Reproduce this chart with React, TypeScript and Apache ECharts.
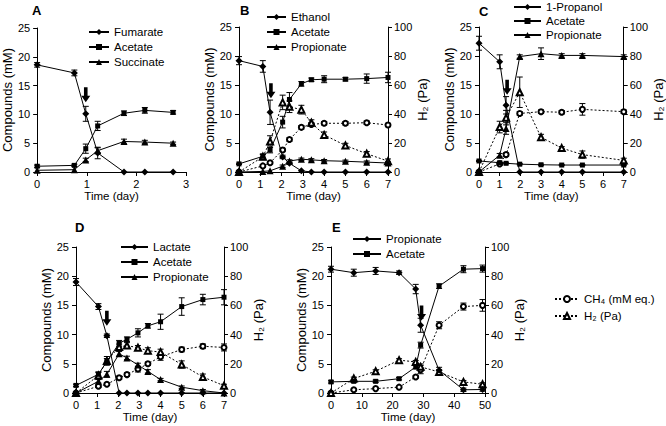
import React, { useEffect, useRef } from "react";
import * as echarts from "echarts";

const FONT = "Liberation Sans, Arial, sans-serif";

// ---------- Panel A ----------
const timeA = [0, 0.75, 0.98, 1.22, 1.75, 2.17, 2.74];
const fumarateA = [18.6, 17.2, 10.1, 3.3, 0, 0, 0];
const fumarateAErr = [0.4, 0.5, 1.3, 1.0, 0, 0, 0];
const acetateA = [1.0, 1.15, 4.05, 8.0, 10.2, 10.7, 10.35];
const acetateAErr = [0.2, 0.2, 0.8, 0.8, 0.4, 0.5, 0.3];
const succinateA = [0.3, 0.4, 2.1, 3.7, 5.3, 5.2, 5.0];
const succinateAErr = [0, 0, 0.3, 0.5, 0.4, 0.3, 0.2];
const arrowA = [0.98, 13.4];

// ---------- Panel B ----------
const timeB = [0, 1.12, 1.46, 2.05, 2.37, 2.93, 3.4, 4, 5, 6, 7];
const ethanolB = [19.2, 18.2, 10.3, 2.6, 1.5, 0.2, 0, 0, 0, 0, 0];
const ethanolBErr = [0.7, 1.0, 2.1, 0.3, 0.2, 0, 0, 0, 0, 0, 0];
const acetateB = [1.4, 2.7, 3.8, 8.6, 12.5, 15.2, 15.9, 16.0, 16.0, 16.1, 16.3];
const acetateBErr = [0.1, 0.3, 0.5, 1.0, 1.2, 0.4, 0.3, 0.6, 0.3, 0.8, 0.9];
const propionateB = [0, 0.1, 0.2, 1.0, 1.9, 2.2, 2.1, 1.95, 1.85, 1.7, 1.55];
const propionateBErr = [0, 0, 0, 0.2, 0.2, 0.2, 0.2, 0.2, 0.2, 0.2, 0.2];
const ch4B = [0, 1.05, 1.6, 3.8, 5.6, 7.7, 8.2, 8.4, 8.4, 8.5, 8.1];
const ch4BErr = [0, 0.2, 0.2, 0.3, 0.3, 0.3, 0.3, 0.3, 0.3, 0.3, 0.3];
const h2B = [0, 10.5, 21, 48, 45, 43, 34, 25.6, 18.3, 12.6, 7.5];
const h2BErr = [0, 2, 4, 5, 4, 3, 2, 2, 1.5, 1.5, 1.5];
const arrowB = [1.5, 14.0];

// ---------- Panel C ----------
const timeC = [0, 1.0, 1.31, 1.97, 3, 4, 5, 7];
const propanolC = [22.2, 19.0, 11.5, 0, 0, 0, 0, 0];
const propanolCErr = [1.2, 1.2, 1.5, 0, 0, 0, 0, 0];
const acetateC = [1.9, 1.6, 1.5, 1.35, 1.25, 1.2, 1.2, 1.2];
const acetateCErr = [0.1, 0.1, 0.1, 0.1, 0.1, 0.1, 0.1, 0.1];
const propionateC = [0, 2.9, 7.5, 19.9, 20.4, 20.1, 20.1, 19.9];
const propionateCErr = [0, 0.3, 1.0, 0.3, 1.0, 0.3, 0.3, 0.3];
const ch4C = [0, 1.4, 3.0, 10.1, 10.4, 10.3, 10.8, 10.4];
const ch4CErr = [0, 0.2, 0.3, 0.3, 0.3, 0.3, 1.0, 0.3];
const h2C = [0, 31, 37.5, 55, 24, 16.5, 12, 8];
const h2CErr = [0, 4, 5, 10.5, 2, 1, 2.5, 1.5];
const arrowC = [1.36, 14.6];

// ---------- Panel D ----------
const timeD = [0, 1.06, 1.46, 2.04, 2.41, 2.93, 3.4, 4, 5, 6, 7];
const lactateD = [19.0, 14.8, 9.8, 0, 0, 0, 0, 0, 0, 0, 0];
const lactateDErr = [0.6, 0.5, 0.3, 0, 0, 0, 0, 0, 0, 0, 0];
const acetateD = [1.3, 3.2, 5.4, 8.5, 9.2, 10.3, 11.5, 12.2, 14.8, 16.0, 16.4];
const acetateDErr = [0.2, 0.3, 0.5, 0.5, 0.4, 0.7, 0.4, 1.3, 1.5, 0.9, 1.3];
const propionateD = [0, 2.0, 3.2, 6.7, 6.0, 4.8, 3.7, 2.3, 1.0, 0.4, 0];
const propionateDErr = [0, 0.3, 0.5, 0.4, 0.3, 0.3, 0.3, 0.2, 0.2, 0.2, 0];
const ch4D = [0, 1.15, 1.5, 2.6, 3.15, 4.1, 5.0, 6.2, 7.45, 8.0, 7.8];
const ch4DErr = [0, 0.2, 0.2, 0.3, 0.3, 0.5, 0.3, 0.6, 0.4, 0.4, 0.6];
const h2D = [0, 12, 22, 31.5, 32.5, 31, 29, 28, 19.5, 11, 5];
const h2DErr = [0, 2.5, 3, 2, 2, 1.5, 2, 2, 2.5, 2, 1];
const arrowD = [1.46, 12.8];

// ---------- Panel E ----------
const timeE = [0, 7.4, 14.5, 22.1, 27.5, 29.1, 35.1, 43, 49.2];
const propionateE = [21.2, 20.6, 20.9, 20.6, 17.8, 11.6, 3.9, 0.55, 0.6];
const propionateEErr = [0.5, 0.6, 0.6, 0.3, 0.8, 1.2, 0.5, 0.3, 0.3];
const acetateE = [1.9, 2.0, 2.0, 2.45, 4.45, 8.2, 18.3, 21.2, 21.3];
const acetateEErr = [0.2, 0.2, 0.2, 0.2, 0.3, 0.5, 0.4, 0.6, 0.6];
const ch4E = [0, 0.55, 0.75, 1.0, 2.75, 4.0, 11.6, 14.8, 15.0];
const ch4EErr = [0, 0.1, 0.1, 0.1, 0.2, 0.7, 0.6, 0.6, 1.0];
const h2E = [0, 9.9, 14.9, 22.5, 21.3, 17.9, 14.4, 7.6, 6.0];
const h2EErr = [0, 1, 1, 1, 1, 2, 1.5, 1, 1];
const arrowE = [29.4, 13.7];

// axis names / labels
const compoundsName = "Compounds (mM)";
const h2Name = "H\u2082 (Pa)";
const timeName = "Time (day)";
const ch4Label = "CH\u2084 (mM eq.)";
const h2Label = "H\u2082 (Pa)";

const ARROW = "path://M3,0 L7,0 L7,9 L10,9 L5,16 L0,9 L3,9 Z";

const axisLine = { show: true, lineStyle: { color: "#000", width: 1 } };
const axisTick = { show: true, length: 4, lineStyle: { color: "#000", width: 1 } };
const labelStyle = { color: "#000", fontSize: 11, fontFamily: FONT };
const nameStyle = { color: "#000", fontSize: 13, fontFamily: FONT };

function xAx(gridIndex: number, max: number, interval: number, nameGap: number) {
  return {
    type: "value",
    gridIndex,
    min: 0,
    max,
    interval,
    name: timeName,
    nameLocation: "middle",
    nameGap,
    nameTextStyle: { ...labelStyle, fontSize: 11.5 },
    axisLine,
    axisTick,
    axisLabel: { ...labelStyle, margin: 6 },
    splitLine: { show: false },
  };
}

function yLeft(gridIndex: number, nameGap: number) {
  return {
    type: "value",
    gridIndex,
    min: 0,
    max: 25,
    interval: 5,
    position: "left",
    name: compoundsName,
    nameLocation: "middle",
    nameRotate: 90,
    nameGap,
    nameTextStyle: nameStyle,
    axisLine,
    axisTick,
    axisLabel: { ...labelStyle, margin: 7 },
    splitLine: { show: false },
  };
}

function yRight(gridIndex: number, nameGap: number) {
  return {
    type: "value",
    gridIndex,
    min: 0,
    max: 100,
    interval: 20,
    position: "right",
    name: h2Name,
    nameLocation: "middle",
    nameRotate: 90,
    nameGap,
    nameTextStyle: nameStyle,
    axisLine,
    axisTick,
    axisLabel: { ...labelStyle, margin: 6 },
    splitLine: { show: false },
  };
}

function pts(xs: number[], ys: number[]) {
  return xs.map((x, i) => [x, ys[i]]);
}

function lineS(
  name: string,
  xi: number,
  yi: number,
  xs: number[],
  ys: number[],
  symbol: string,
  symbolSize: number,
  dotted = false
) {
  const empty = symbol.indexOf("empty") === 0;
  return {
    type: "line",
    name,
    xAxisIndex: xi,
    yAxisIndex: yi,
    data: pts(xs, ys),
    symbol,
    symbolSize,
    showSymbol: true,
    showAllSymbol: true,
    itemStyle: empty
      ? { color: "#000", borderColor: "#000", borderWidth: 1 }
      : { color: "#000", borderWidth: 0 },
    lineStyle: { color: "#000", width: 1, type: dotted ? [2, 2] : "solid" },
    z: dotted ? 3 : 4,
    silent: true,
  };
}

function errS(xi: number, yi: number, xs: number[], ys: number[], errs: number[]) {
  return {
    type: "custom",
    xAxisIndex: xi,
    yAxisIndex: yi,
    data: xs.map((x, i) => [x, ys[i], errs[i]]),
    encode: { x: 0, y: 1 },
    silent: true,
    z: 2,
    renderItem: (_params: any, api: any) => {
      const x = api.value(0);
      const y = api.value(1);
      const e = api.value(2);
      if (!e) return null;
      const top = api.coord([x, y + e]);
      const bot = api.coord([x, Math.max(0, y - e)]);
      const w = 3;
      const style = { stroke: "#000", lineWidth: 1, fill: null };
      return {
        type: "group",
        children: [
          { type: "line", shape: { x1: top[0], y1: top[1], x2: bot[0], y2: bot[1] }, style },
          { type: "line", shape: { x1: top[0] - w, y1: top[1], x2: top[0] + w, y2: top[1] }, style },
          { type: "line", shape: { x1: bot[0] - w, y1: bot[1], x2: bot[0] + w, y2: bot[1] }, style },
        ],
      };
    },
  };
}

function arrowS(xi: number, yi: number, p: number[]) {
  return {
    type: "scatter",
    xAxisIndex: xi,
    yAxisIndex: yi,
    data: [p],
    symbol: ARROW,
    symbolSize: [9, 15],
    itemStyle: { color: "#000", opacity: 1, borderWidth: 0 },
    z: 10,
    silent: true,
  };
}

function legendC(names: string[], left: number, top: number, itemWidth: number, itemGap: number) {
  return {
    data: names,
    orient: "vertical",
    left,
    top,
    itemWidth,
    itemHeight: 7.5,
    itemGap,
    padding: 0,
    selectedMode: false,
    formatter: (n: string) => n.split("|")[1],
    textStyle: { color: "#000", fontSize: 11.5, fontFamily: FONT, lineHeight: 13 },
  };
}

function panelTitle(text: string, left: number, top: number) {
  return {
    text,
    left,
    top,
    padding: 0,
    textStyle: { color: "#000", fontSize: 13, fontWeight: "bold", fontFamily: FONT },
  };
}

export default function App() {
  const ref = useRef<HTMLDivElement>(null);

  useEffect(() => {
    if (!ref.current) return;
    const chart = echarts.init(ref.current, undefined, { renderer: "svg" });

    const series: any[] = [
      // A
      errS(0, 0, timeA, fumarateA, fumarateAErr),
      errS(0, 0, timeA, acetateA, acetateAErr),
      errS(0, 0, timeA, succinateA, succinateAErr),
      lineS("A|Fumarate", 0, 0, timeA, fumarateA, "diamond", 7),
      lineS("A|Acetate", 0, 0, timeA, acetateA, "rect", 5),
      lineS("A|Succinate", 0, 0, timeA, succinateA, "triangle", 7),
      arrowS(0, 0, arrowA),
      // B
      errS(1, 1, timeB, ch4B, ch4BErr),
      errS(1, 2, timeB, h2B, h2BErr),
      errS(1, 1, timeB, ethanolB, ethanolBErr),
      errS(1, 1, timeB, acetateB, acetateBErr),
      errS(1, 1, timeB, propionateB, propionateBErr),
      lineS("B|" + ch4Label, 1, 1, timeB, ch4B, "emptyCircle", 5, true),
      lineS("B|" + h2Label, 1, 2, timeB, h2B, "emptyTriangle", 6, true),
      lineS("B|Ethanol", 1, 1, timeB, ethanolB, "diamond", 7),
      lineS("B|Acetate", 1, 1, timeB, acetateB, "rect", 5),
      lineS("B|Propionate", 1, 1, timeB, propionateB, "triangle", 7),
      arrowS(1, 1, arrowB),
      // C
      errS(2, 3, timeC, ch4C, ch4CErr),
      errS(2, 4, timeC, h2C, h2CErr),
      errS(2, 3, timeC, propanolC, propanolCErr),
      errS(2, 3, timeC, acetateC, acetateCErr),
      errS(2, 3, timeC, propionateC, propionateCErr),
      lineS("C|" + ch4Label, 2, 3, timeC, ch4C, "emptyCircle", 5, true),
      lineS("C|" + h2Label, 2, 4, timeC, h2C, "emptyTriangle", 6, true),
      lineS("C|1-Propanol", 2, 3, timeC, propanolC, "diamond", 7),
      lineS("C|Acetate", 2, 3, timeC, acetateC, "rect", 5),
      lineS("C|Propionate", 2, 3, timeC, propionateC, "triangle", 7),
      arrowS(2, 3, arrowC),
      // D
      errS(3, 5, timeD, ch4D, ch4DErr),
      errS(3, 6, timeD, h2D, h2DErr),
      errS(3, 5, timeD, lactateD, lactateDErr),
      errS(3, 5, timeD, acetateD, acetateDErr),
      errS(3, 5, timeD, propionateD, propionateDErr),
      lineS("D|" + ch4Label, 3, 5, timeD, ch4D, "emptyCircle", 5, true),
      lineS("D|" + h2Label, 3, 6, timeD, h2D, "emptyTriangle", 6, true),
      lineS("D|Lactate", 3, 5, timeD, lactateD, "diamond", 7),
      lineS("D|Acetate", 3, 5, timeD, acetateD, "rect", 5),
      lineS("D|Propionate", 3, 5, timeD, propionateD, "triangle", 7),
      arrowS(3, 5, arrowD),
      // E
      errS(4, 7, timeE, ch4E, ch4EErr),
      errS(4, 8, timeE, h2E, h2EErr),
      errS(4, 7, timeE, propionateE, propionateEErr),
      errS(4, 7, timeE, acetateE, acetateEErr),
      lineS("E|" + ch4Label, 4, 7, timeE, ch4E, "emptyCircle", 5, true),
      lineS("E|" + h2Label, 4, 8, timeE, h2E, "emptyTriangle", 6, true),
      lineS("E|Propionate", 4, 7, timeE, propionateE, "diamond", 7),
      lineS("E|Acetate", 4, 7, timeE, acetateE, "rect", 5),
      arrowS(4, 7, arrowE),
    ];

    chart.setOption({
      animation: false,
      textStyle: { fontFamily: FONT },
      title: [
        panelTitle("A", 32, 4),
        panelTitle("B", 240, 4),
        panelTitle("C", 479, 5),
        panelTitle("D", 75, 221),
        panelTitle("E", 332, 221),
      ],
      legend: [
        legendC(["A|Fumarate", "A|Acetate", "A|Succinate"], 88, 25.5, 20, 2),
        legendC(["B|Ethanol", "B|Acetate", "B|Propionate"], 266, 10.5, 19, 2),
        legendC(["C|1-Propanol", "C|Acetate", "C|Propionate"], 513, 0.5, 27, 1),
        legendC(["D|Lactate", "D|Acetate", "D|Propionate"], 120, 240.5, 27, 2),
        legendC(["E|Propionate", "E|Acetate"], 352, 232.5, 28, 2),
        legendC(["E|" + ch4Label, "E|" + h2Label], 554, 292.5, 24, 4),
      ],
      grid: [
        { left: 33, top: 28, width: 153, height: 144 },
        { left: 239, top: 27, width: 149, height: 145 },
        { left: 479, top: 27, width: 148, height: 145 },
        { left: 76, top: 247, width: 148, height: 146 },
        { left: 331, top: 247, width: 154, height: 146 },
      ],
      xAxis: [
        xAx(0, 3, 1, 18),
        xAx(1, 7, 1, 18),
        xAx(2, 7, 1, 18),
        xAx(3, 7, 1, 16),
        xAx(4, 50, 10, 16),
      ],
      yAxis: [
        yLeft(0, 20),
        yLeft(1, 22),
        yRight(1, 26),
        yLeft(2, 17),
        yRight(2, 22),
        yLeft(3, 21),
        yRight(3, 24),
        yLeft(4, 18),
        yRight(4, 21),
      ],
      series,
    });

    return () => {
      chart.dispose();
    };
  }, []);

  return (
    <div
      ref={ref}
      style={{ position: "fixed", left: 0, top: 0, width: 666, height: 426, background: "#fff" }}
    />
  );
}
